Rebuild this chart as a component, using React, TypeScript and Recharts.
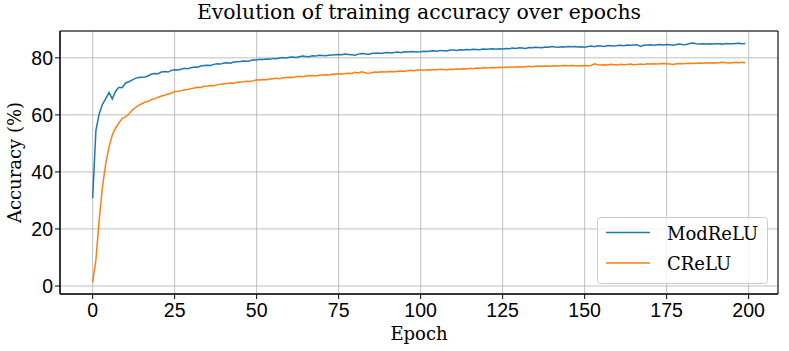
import {
  LineChart,
  Line,
  XAxis,
  YAxis,
  CartesianGrid,
  Legend,
  ReferenceArea,
} from 'recharts'

// training accuracy (%) per epoch
const modReLU = [
  30.7, 54.6, 60.4, 63.7, 65.7, 67.9, 65.6, 68.3, 69.7, 69.5,
  71.1, 71.6, 72.2, 72.8, 73.1, 73.2, 73.3, 73.7, 74.3, 74.5,
  74.4, 75.0, 75.2, 75.0, 75.6, 75.8, 75.7, 76.0, 76.3, 76.2,
  76.5, 76.8, 76.7, 77.1, 77.3, 77.4, 77.3, 77.7, 77.9, 77.8,
  78.2, 78.3, 78.1, 78.5, 78.6, 78.7, 78.9, 78.8, 79.0, 79.3,
  79.2, 79.5, 79.4, 79.6, 79.5, 79.8, 79.7, 79.9, 80.1, 79.9,
  80.2, 80.3, 80.1, 80.4, 80.6, 80.5, 80.4, 80.7, 80.6, 80.9,
  80.8, 80.7, 80.9, 81.0, 81.1, 81.2, 81.1, 81.3, 81.2, 81.1,
  80.9, 81.3, 81.5, 81.4, 81.2, 81.5, 81.6, 81.7, 81.5, 81.8,
  81.9, 81.7, 81.9, 82.0, 81.8, 82.1, 82.0, 82.2, 82.1, 82.0,
  82.1, 82.3, 82.2, 82.4, 82.5, 82.3, 82.6, 82.5, 82.4, 82.7,
  82.7, 82.6, 82.8, 82.7, 82.9, 82.8, 83.0, 82.9, 82.8, 83.1,
  83.0, 83.1, 83.2, 83.0, 83.2, 83.1, 83.3, 83.2, 83.4, 83.3,
  83.5, 83.4, 83.3, 83.6, 83.5, 83.7, 83.6, 83.5, 83.8, 83.7,
  84.0, 83.8, 83.7, 83.9, 83.8, 84.0, 83.9, 84.0, 83.8, 83.9,
  83.7, 84.0, 84.1, 83.9, 84.2, 84.1, 84.0, 84.3, 84.2, 84.1,
  84.3, 84.4, 84.2, 84.5, 84.4, 84.5, 84.6, 84.0, 84.4, 84.5,
  84.6, 84.4, 84.6, 84.7, 84.5, 84.7, 84.6, 84.4, 84.7, 84.8,
  84.6, 84.7, 85.0, 85.2, 84.9, 84.8, 84.9, 84.8, 84.9, 84.8,
  84.9, 84.9, 84.8, 85.0, 84.9, 84.9, 85.0, 85.1, 84.9, 85.0,
]

const cReLU = [
  1.4, 9.2, 23.2, 34.8, 43.0, 48.8, 52.9, 55.4, 57.2, 58.7,
  59.3, 60.2, 61.6, 62.5, 63.3, 63.9, 64.5, 64.8, 65.4, 65.7,
  66.2, 66.6, 66.9, 67.3, 67.6, 68.2, 68.3, 68.5, 68.8, 68.9,
  69.2, 69.4, 69.7, 69.6, 70.0, 70.1, 70.3, 70.2, 70.6, 70.7,
  70.9, 71.0, 71.2, 71.1, 71.4, 71.5, 71.6, 71.8, 71.7, 72.0,
  72.3, 72.2, 72.4, 72.3, 72.6, 72.7, 72.8, 72.7, 73.0, 73.1,
  73.2, 73.1, 73.4, 73.5, 73.4, 73.6, 73.7, 73.8, 73.6, 73.9,
  74.0, 74.1, 74.0, 74.2, 74.3, 74.4, 74.3, 74.5, 74.6, 74.5,
  74.9, 74.7, 75.1, 74.8, 74.5, 74.8, 75.0, 74.9, 75.1, 75.0,
  75.1, 75.2, 75.1, 75.3, 75.4, 75.3, 75.5, 75.6, 75.5, 75.7,
  75.7, 75.6, 75.8, 75.7, 75.9, 75.8, 76.0, 75.9, 75.8, 76.0,
  75.9, 76.1, 76.0, 76.2, 76.1, 76.3, 76.2, 76.4, 76.3, 76.5,
  76.4, 76.5, 76.6, 76.5, 76.7, 76.6, 76.7, 76.8, 76.7, 76.8,
  76.9, 76.8, 76.9, 77.0, 76.9, 77.0, 77.1, 77.0, 77.1, 77.0,
  77.1, 77.2, 77.1, 77.2, 77.3, 77.2, 77.3, 77.2, 77.1, 77.2,
  77.3, 77.2, 77.3, 77.9, 77.6, 77.5, 77.6, 77.5, 77.7, 77.6,
  77.5, 77.7, 77.6, 77.7, 77.8, 77.6, 77.7, 77.8, 77.7, 77.9,
  77.8, 77.9, 77.8, 77.9, 78.0, 77.9, 77.8, 77.7, 77.9, 78.0,
  77.9, 78.0, 78.1, 78.0, 78.1, 78.2, 78.1, 78.3, 78.2, 78.3,
  78.2, 78.3, 78.4, 78.3, 78.2, 78.3, 78.4, 78.3, 78.4, 78.3,
]

const xTicks = [0, 25, 50, 75, 100, 125, 150, 175, 200]
const yTicks = [0, 20, 40, 60, 80]

const data = modReLU.map((v, i) => ({ epoch: i, modrelu: v, crelu: cReLU[i] }))

const SERIF = "'DejaVu Serif', 'Liberation Serif', serif"
const SANS = "'Liberation Sans', Arial, sans-serif"
const BLUE = '#1f77b4'
const ORANGE = '#ff7f0e'

const X_DOMAIN: [number, number] = [-9.95, 208.95]
const Y_DOMAIN: [number, number] = [-2.8, 89.4]

function LegendBox() {
  const rows = [
    { name: 'ModReLU', color: BLUE, y: 15.5 },
    { name: 'CReLU', color: ORANGE, y: 46 },
  ]
  return (
    <svg width={171} height={67} style={{ display: 'block' }}>
      <rect x={0.5} y={0.5} width={170} height={66} rx={3} fill="#fff" fillOpacity={0.8} stroke="#cccccc" />
      {rows.map((r) => (
        <g key={r.name}>
          <line x1={9} x2={53} y1={r.y} y2={r.y} stroke={r.color} strokeWidth={1.5} />
          <text x={70} y={r.y + 7} fontFamily={SERIF} fontSize={18} fill="#000">
            {r.name}
          </text>
        </g>
      ))}
    </svg>
  )
}

export default function App() {
  return (
    <div style={{ position: 'absolute', left: 0, top: 0, width: 789, height: 351, background: '#fff' }}>
      <div
        style={{
          position: 'absolute',
          left: 60,
          width: 718,
          top: 2,
          textAlign: 'center',
          fontFamily: SERIF,
          fontSize: 20.4,
          lineHeight: '20px',
          color: '#000',
        }}
      >
        Evolution of training accuracy over epochs
      </div>
      <LineChart width={789} height={351} data={data} margin={{ top: 31, right: 11, bottom: 0, left: 0 }}>
        <CartesianGrid stroke="#b0b0b0" strokeWidth={0.8} />
        <XAxis
          dataKey="epoch"
          type="number"
          domain={X_DOMAIN}
          ticks={xTicks}
          allowDataOverflow
          height={57}
          tickSize={5}
          tickMargin={4}
          stroke="#000"
          tick={{ fill: '#000', fontSize: 19.5, fontFamily: SANS }}
          label={{ value: 'Epoch', position: 'insideBottom', offset: 11, fill: '#000', fontSize: 18, fontFamily: SERIF }}
        />
        <YAxis
          type="number"
          domain={Y_DOMAIN}
          ticks={yTicks}
          allowDataOverflow
          width={60}
          tickSize={5}
          stroke="#000"
          tick={{ fill: '#000', fontSize: 19.5, fontFamily: SANS }}
          label={{
            value: 'Accuracy (%)',
            angle: -90,
            position: 'insideLeft',
            offset: 15,
            fill: '#000',
            fontSize: 18,
            fontFamily: SERIF,
            style: { textAnchor: 'middle' },
          }}
        />
        <Line
          type="linear"
          dataKey="modrelu"
          name="ModReLU"
          stroke={BLUE}
          strokeWidth={1.5}
          dot={false}
          isAnimationActive={false}
        />
        <Line
          type="linear"
          dataKey="crelu"
          name="CReLU"
          stroke={ORANGE}
          strokeWidth={1.5}
          dot={false}
          isAnimationActive={false}
        />
        <ReferenceArea
          x1={X_DOMAIN[0]}
          x2={X_DOMAIN[1]}
          y1={Y_DOMAIN[0]}
          y2={Y_DOMAIN[1]}
          fill="none"
          stroke="#000"
          strokeWidth={1}
          ifOverflow="visible"
        />
        <Legend
          layout="vertical"
          align="center"
          verticalAlign="middle"
          content={() => <LegendBox />}
          wrapperStyle={{ left: 597, top: 217, width: 171, height: 67 }}
        />
      </LineChart>
    </div>
  )
}
